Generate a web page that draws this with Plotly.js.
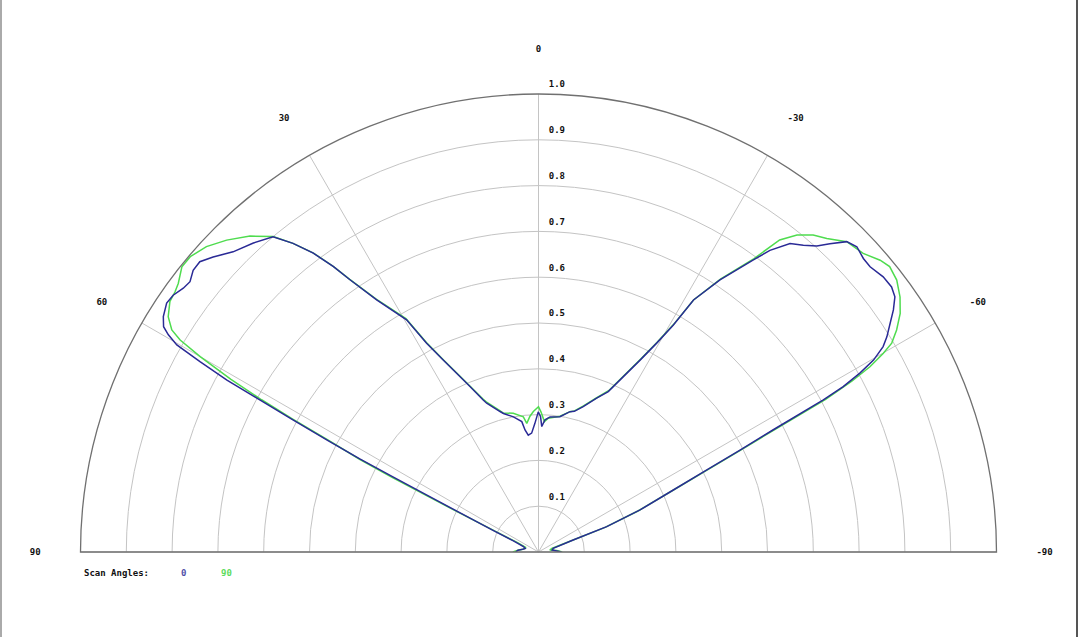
<!DOCTYPE html>
<html>
<head>
<meta charset="utf-8">
<script src="https://cdn.plot.ly/plotly-3.0.1.min.js"></script>
<style>html,body{margin:0;padding:0;background:#fff;}#chart{width:1080px;height:637px;}</style>
</head>
<body>
<div id="chart"></div>
<script>
// Scan angle series names
var seriesNames = ['0', '90'];

// Series "0" (blue): angle (deg, + = left) and normalised response
var thetaBlue = [90, 85, 80, 75, 70, 66, 64.5, 63.5, 63, 62.7, 62.5, 62.1, 61.7, 61.4, 61.1, 60.65, 60.2, 59.6, 59.0, 57.9, 56.2, 54.9, 53.4, 52.2, 50.8, 49.4, 47.8, 45.5, 42.7, 40.1, 38.5, 37.0, 35.7, 34.7, 32.7, 29.6, 28.2, 26.4, 24.1, 22.5, 20, 19.2, 15.3, 14.2, 10.5, 7.3, 6.3, 5.0, 3.3, 1.6, 0.1, -0.85, -1.5, -2.8, -4.9, -9, -12.65, -14.3, -17.1, -20.7, -23.5, -27.9, -29.5, -30.7, -31.6, -33.7, -36.3, -37.5, -39.2, -40.8, -42.3, -43.4, -44.8, -46.2, -47.9, -49.3, -51.4, -53.1, -54.4, -55.7, -56.95, -58.3, -59.2, -60.2, -60.9, -61.5, -61.9, -62.5, -63.2, -64.0, -65.3, -67.5, -69.6, -71, -76, -82, -90];
var rBlue = [0.05, 0.045, 0.035, 0.03, 0.035, 0.06, 0.11, 0.19, 0.27, 0.36, 0.44, 0.52, 0.61, 0.69, 0.777, 0.848, 0.91, 0.937, 0.955, 0.967, 0.977, 0.975, 0.966, 0.963, 0.973, 0.974, 0.959, 0.935, 0.918, 0.900, 0.861, 0.817, 0.767, 0.723, 0.654, 0.583, 0.517, 0.468, 0.419, 0.391, 0.353, 0.344, 0.318, 0.312, 0.300, 0.287, 0.268, 0.256, 0.260, 0.281, 0.306, 0.296, 0.274, 0.289, 0.296, 0.299, 0.314, 0.317, 0.332, 0.359, 0.382, 0.474, 0.524, 0.576, 0.646, 0.714, 0.791, 0.830, 0.869, 0.885, 0.903, 0.926, 0.955, 0.963, 0.956, 0.955, 0.963, 0.964, 0.957, 0.938, 0.916, 0.894, 0.876, 0.843, 0.803, 0.757, 0.705, 0.578, 0.493, 0.409, 0.324, 0.240, 0.159, 0.080, 0.033, 0.03, 0.05];

// Series "90" (green)
var thetaGreen = [90, 85, 80, 75, 70, 66, 64.3, 63.7, 63.3, 63.0, 62.6, 62.0, 61.6, 61.2, 60.7, 60.0, 59.4, 58.8, 57.56, 55.8, 54.4, 53.3, 51.35, 49.7, 47.4, 45.0, 42.4, 40.07, 38.5, 37.0, 35.7, 34.7, 32.7, 29.6, 28.2, 26.4, 24.1, 22.5, 20, 19.2, 15.3, 14.2, 10.3, 6.4, 5.2, 3.6, 2.1, 0, -1, -2.6, -4.2, -9, -12.65, -14.3, -17.1, -20.7, -23.5, -27.9, -29.5, -30.7, -31.6, -33.7, -36.3, -37.7, -39.2, -40.9, -42.6, -44.8, -47.4, -49.5, -50.9, -52.8, -54.8, -56.6, -58.2, -59.4, -60.05, -60.8, -61.4, -62.0, -62.6, -63.3, -64.1, -65.4, -67.6, -69.7, -71, -75, -80, -85, -90];
var rGreen = [0.056, 0.045, 0.035, 0.03, 0.03, 0.05, 0.11, 0.19, 0.27, 0.36, 0.44, 0.52, 0.61, 0.69, 0.77, 0.853, 0.909, 0.936, 0.958, 0.973, 0.976, 0.981, 0.997, 0.997, 0.985, 0.963, 0.934, 0.900, 0.861, 0.818, 0.768, 0.724, 0.656, 0.586, 0.520, 0.470, 0.421, 0.393, 0.356, 0.347, 0.320, 0.313, 0.308, 0.297, 0.282, 0.297, 0.307, 0.317, 0.306, 0.285, 0.293, 0.300, 0.314, 0.318, 0.334, 0.360, 0.384, 0.476, 0.526, 0.578, 0.646, 0.716, 0.795, 0.861, 0.893, 0.916, 0.930, 0.955, 0.963, 0.981, 0.988, 0.982, 0.966, 0.946, 0.920, 0.896, 0.869, 0.829, 0.78, 0.71, 0.58, 0.49, 0.41, 0.32, 0.235, 0.155, 0.08, 0.03, 0.025, 0.04, 0.052];

// Axis ticks
var angleTicks = [-90, -60, -30, 0, 30, 60, 90];
var angleTickText = ['-90', '-60', '-30', '0', '30', '60', '90'];
var radialTicks = [0.1, 0.2, 0.3, 0.4, 0.5, 0.6, 0.7, 0.8, 0.9, 1.0];
var radialTickText = ['0.1', '0.2', '0.3', '0.4', '0.5', '0.6', '0.7', '0.8', '0.9', '1.0'];
var legendTitle = 'Scan Angles:';

var colors = ['#2a2a96', '#4fdc4f'];
var labelColors = ['#5050a8', '#5cdc5c'];
var monoFont = 'DejaVu Sans Mono, monospace';

var W = 1080, H = 637;
var cx = 538.5, cy = 552, R = 458;
// radial labels sit a few pixels above their circles: a label-only overlay
// polar subplot with a slightly offset radial range does that
var labelLift = 9.5;                 // px
var rMin2 = -labelLift / R;          // range start of overlay axis
var R2 = R * (1 - rMin2);            // overlay radius in px

var traces = [
  {type: 'scatterpolar', mode: 'lines', theta: thetaGreen, r: rGreen, name: seriesNames[1],
   line: {color: colors[1], width: 1.5}, hoverinfo: 'skip', subplot: 'polar'},
  {type: 'scatterpolar', mode: 'lines', theta: thetaBlue, r: rBlue, name: seriesNames[0],
   line: {color: colors[0], width: 1.5}, hoverinfo: 'skip', subplot: 'polar'},
  {type: 'scatterpolar', mode: 'lines', theta: [], r: [], subplot: 'polar2', hoverinfo: 'skip', showlegend: false}
];

var tickFont = {family: monoFont, size: 9, color: '#111', weight: 'bold'};

var layout = {
  width: W, height: H,
  margin: {l: 0, r: 0, t: 0, b: 0},
  paper_bgcolor: '#ffffff',
  showlegend: false,
  font: {family: monoFont, size: 9, color: '#222'},
  polar: {
    domain: {x: [(cx - R) / W, (cx + R) / W], y: [(H - cy) / H, (H - cy + R) / H]},
    sector: [0, 180],
    bgcolor: '#ffffff',
    angularaxis: {
      rotation: 90, direction: 'counterclockwise',
      tickmode: 'array', tickvals: angleTicks, ticktext: angleTickText,
      showline: true, linecolor: '#707070', linewidth: 1.3,
      showgrid: true, gridcolor: '#c4c4c4', gridwidth: 1,
      ticks: 'outside', ticklen: 37.5, tickcolor: 'rgba(0,0,0,0)',
      tickfont: tickFont
    },
    radialaxis: {
      range: [0, 1], angle: 90,
      tickmode: 'array', tickvals: radialTicks,
      showline: false, showgrid: true, gridcolor: '#c4c4c4', gridwidth: 1,
      ticks: '', showticklabels: false
    }
  },
  polar2: {
    domain: {x: [(cx - R2) / W, (cx + R2) / W], y: [(H - cy) / H, (H - cy + R2) / H]},
    sector: [0, 180],
    bgcolor: 'rgba(0,0,0,0)',
    angularaxis: {visible: false, rotation: 90, direction: 'counterclockwise'},
    radialaxis: {
      range: [rMin2, 1], angle: 90, side: 'clockwise', tickangle: 90,
      tickmode: 'array', tickvals: radialTicks, ticktext: radialTickText,
      showline: false, showgrid: false,
      ticks: 'outside', ticklen: 8, tickcolor: 'rgba(0,0,0,0)',
      tickfont: tickFont
    }
  },
  annotations: [
    {xref: 'paper', yref: 'paper', x: 82 / W, y: (H - 573) / H, xanchor: 'left', yanchor: 'middle',
     text: legendTitle, showarrow: false, font: {family: monoFont, size: 9, color: '#111', weight: 'bold'}},
    {xref: 'paper', yref: 'paper', x: 183 / W, y: (H - 573) / H, xanchor: 'center', yanchor: 'middle',
     text: seriesNames[0], showarrow: false, font: {family: monoFont, size: 9, color: labelColors[0], weight: 'bold'}},
    {xref: 'paper', yref: 'paper', x: 226 / W, y: (H - 573) / H, xanchor: 'center', yanchor: 'middle',
     text: seriesNames[1], showarrow: false, font: {family: monoFont, size: 9, color: labelColors[1], weight: 'bold'}}
  ],
  shapes: [
    {type: 'line', xref: 'paper', yref: 'paper', x0: 1 / W, x1: 1 / W, y0: 0, y1: 1, line: {color: '#aaa', width: 2}},
    {type: 'line', xref: 'paper', yref: 'paper', x0: 1077 / W, x1: 1077 / W, y0: 0, y1: 1, line: {color: '#555', width: 2}}
  ]
};

Plotly.newPlot('chart', traces, layout, {displayModeBar: false, staticPlot: true});
</script>
</body>
</html>
